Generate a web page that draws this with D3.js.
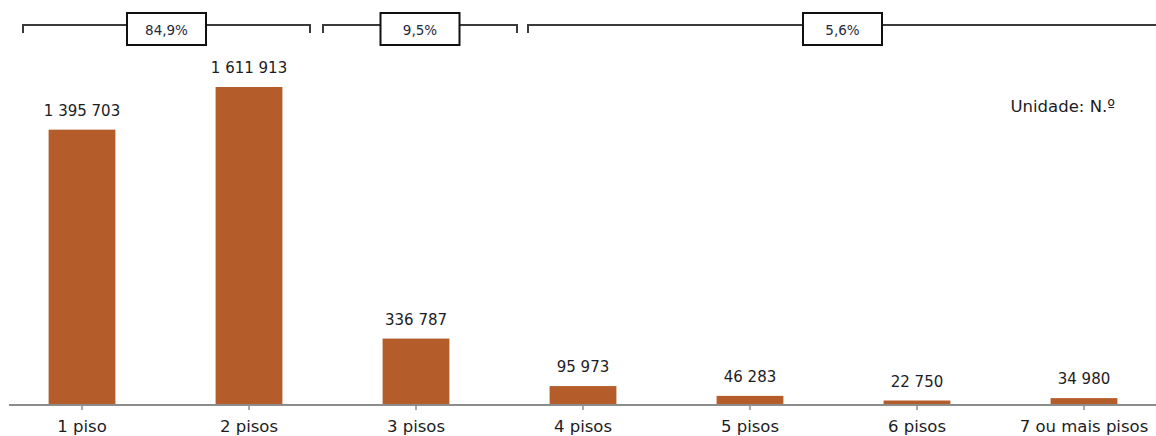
<!DOCTYPE html>
<html lang="pt">
<head>
<meta charset="utf-8">
<script src="https://cdn.jsdelivr.net/npm/d3@7"></script>
<style>
  html, body { margin: 0; padding: 0; background: #fff; }
  svg { display: block; font-family: "DejaVu Sans", sans-serif; }
</style>
</head>
<body>
<svg id="chart" width="1156" height="436"></svg>
<script>
// Edifícios segundo o número de pisos
const categories = ["1 piso", "2 pisos", "3 pisos", "4 pisos", "5 pisos", "6 pisos", "7 ou mais pisos"];
const values = [1395703, 1611913, 336787, 95973, 46283, 22750, 34980];

// Agrupamentos indicados por chavetas no topo (índice inicial, índice final, rótulo)
const groupStart = [0, 2, 3];
const groupEnd = [1, 2, 6];
const groupLabels = ["84,9%", "9,5%", "5,6%"];

const unitLabel = "Unidade: N.º";

const svg = d3.select("#chart");
const W = 1156, H = 436;
const baseY = 405;

const x = d3.scaleBand()
  .domain(categories)
  .range([-1.5, 1167.5])
  .paddingInner(0.6)
  .paddingOuter(0.3);

const y = d3.scaleLinear()
  .domain([0, d3.max(values)])
  .range([baseY, 87]);

const fmtSpace = v => d3.format(",")(v).replace(/,/g, " ");

// Barras
svg.append("g")
  .selectAll("rect")
  .data(values)
  .join("rect")
  .attr("x", (d, i) => x(categories[i]))
  .attr("y", d => y(d))
  .attr("width", x.bandwidth())
  .attr("height", d => baseY - y(d))
  .attr("fill", "#b55d2a");

// Valores sobre as barras
svg.append("g")
  .selectAll("text")
  .data(values)
  .join("text")
  .attr("x", (d, i) => x(categories[i]) + x.bandwidth() / 2)
  .attr("y", d => y(d) - 14)
  .attr("text-anchor", "middle")
  .attr("font-size", 15)
  .attr("fill", "#1c1c24")
  .text(d => fmtSpace(d));

// Eixo horizontal
const axis = d3.axisBottom(x).tickSize(5).tickPadding(10);
const gx = svg.append("g")
  .attr("transform", `translate(0,${baseY})`)
  .call(axis);
gx.select(".domain").remove();
gx.selectAll(".tick line").attr("stroke", "#8c8c8c").attr("stroke-width", 1.5);
gx.selectAll(".tick text")
  .attr("font-size", 16.5)
  .attr("font-family", "DejaVu Sans, sans-serif")
  .attr("fill", "#1c1c24");
svg.append("line")
  .attr("x1", 9).attr("x2", W)
  .attr("y1", baseY).attr("y2", baseY)
  .attr("stroke", "#8c8c8c")
  .attr("stroke-width", 2);

// Chavetas de agrupamento com percentagens
const padL = [59, 93, 55];
const padR = [61, 101, 73];
const bracketY = 25, tickDown = 8, boxW = 79, boxH = 32;
const centre = c => x(c) + x.bandwidth() / 2;

const groups = svg.append("g");
groupLabels.forEach((lab, g) => {
  const x0 = centre(categories[groupStart[g]]) - padL[g];
  const x1 = centre(categories[groupEnd[g]]) + padR[g];
  const mid = (x0 + x1) / 2;
  groups.append("path")
    .attr("d", `M${x0},${bracketY + tickDown}V${bracketY}H${x1}V${bracketY + tickDown}`)
    .attr("fill", "none")
    .attr("stroke", "#3a3a3a")
    .attr("stroke-width", 2);
  groups.append("rect")
    .attr("x", mid - boxW / 2)
    .attr("y", bracketY - 12)
    .attr("width", boxW)
    .attr("height", boxH)
    .attr("fill", "#fff")
    .attr("stroke", "#111")
    .attr("stroke-width", 2);
  groups.append("text")
    .attr("x", mid)
    .attr("y", bracketY + 10)
    .attr("text-anchor", "middle")
    .attr("font-size", 13.5)
    .attr("fill", "#1f2a40")
    .text(lab);
});

// Unidade
svg.append("text")
  .attr("x", 1115)
  .attr("y", 112)
  .attr("text-anchor", "end")
  .attr("font-size", 16.5)
  .attr("fill", "#1c1c24")
  .text(unitLabel);
</script>
</body>
</html>
